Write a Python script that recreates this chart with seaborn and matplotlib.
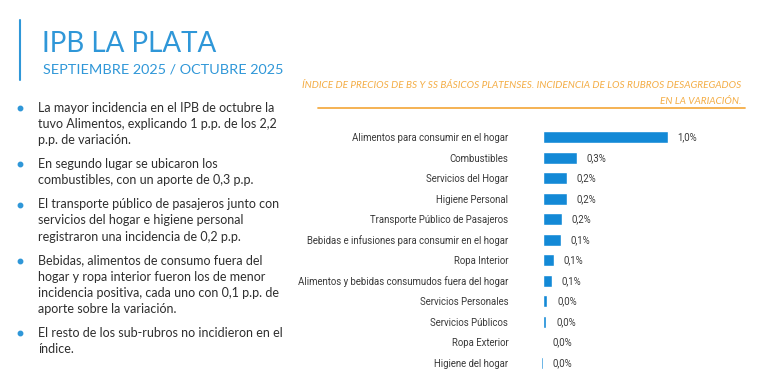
import matplotlib
matplotlib.use("Agg")
import matplotlib.pyplot as plt
import seaborn as sns
import pandas as pd

# datos
rubros = ["Alimentos para consumir en el hogar", "Combustibles", "Servicios del Hogar",
          "Higiene Personal", "Transporte Público de Pasajeros",
          "Bebidas e infusiones para consumir en el hogar", "Ropa Interior",
          "Alimentos y bebidas consumudos fuera del hogar", "Servicios Personales",
          "Servicios Públicos", "Ropa Exterior", "Higiene del hogar"]
incidencia = [1.0, 0.27, 0.19, 0.19, 0.15, 0.14, 0.09, 0.07, 0.035, 0.027, 0.0, -0.016]
etiquetas = ["1,0%", "0,3%", "0,2%", "0,2%", "0,2%", "0,1%", "0,1%", "0,1%",
             "0,0%", "0,0%", "0,0%", "0,0%"]

titulo = "IPB LA PLATA"
subtitulo = "SEPTIEMBRE 2025 / OCTUBRE 2025"
encabezado = ["ÍNDICE DE PRECIOS DE BS Y SS BÁSICOS PLATENSES. INCIDENCIA DE LOS RUBROS DESAGREGADOS",
              "EN LA VARIACIÓN."]
bullets = [
    "La mayor incidencia en el IPB de octubre la\ntuvo Alimentos, explicando 1 p.p. de los 2,2\np.p. de variación.",
    "En segundo lugar se ubicaron los\ncombustibles, con un aporte de 0,3 p.p.",
    "El transporte público de pasajeros junto con\nservicios del hogar e higiene personal\nregistraron una incidencia de 0,2 p.p.",
    "Bebidas, alimentos de consumo fuera del\nhogar y ropa interior fueron los de menor\nincidencia positiva, cada uno con 0,1 p.p. de\naporte sobre la variación.",
    "El resto de los sub-rubros no incidieron en el\níndice.",
]

df = pd.DataFrame({"rubro": rubros, "incidencia": incidencia})

sns.set_style("white")
plt.rcParams["font.family"] = ["Roboto", "DejaVu Sans"]

W, H = 768, 388
fig = plt.figure(figsize=(W / 100, H / 100), dpi=100)
fig.patch.set_facecolor("white")

azul = "#2f97d8"
naranja = "#f4ad45"
gris = "#2e2e2e"

# cabecera izquierda
fig.add_artist(plt.Line2D([20 / W, 20 / W], [1 - 20 / H, 1 - 80 / H], color=azul, lw=1.5))
fig.text(42 / W, 1 - 44 / H, titulo, color=azul, fontsize=20, family="Lato", va="center")
fig.text(43 / W, 1 - 69 / H, subtitulo, color=azul, fontsize=10.4, family="Lato", va="center")

# bullets
y = 108
for b in bullets:
    fig.add_artist(plt.Line2D([20 / W], [1 - y / H], marker="o", ms=3.2, color=azul, lw=0))
    n = b.count("\n") + 1
    fig.text(38 / W, 1 - (y - 6.5) / H, b, color=gris, fontsize=9, family="Lato",
             va="top", linespacing=1.42)
    y += (n - 1) * 15.9 + 24.5

# encabezado naranja
fig.text(741 / W, 1 - 85.5 / H, encabezado[0], color=naranja, fontsize=7.2,
         style="italic", family="Lato", ha="right", va="center")
fig.text(741 / W, 1 - 101.5 / H, encabezado[1], color=naranja, fontsize=7.2,
         style="italic", family="Lato", ha="right", va="center")
fig.add_artist(plt.Line2D([318 / W, 745 / W], [1 - 108 / H, 1 - 108 / H], color=naranja, lw=1.3))

# barras
ax = fig.add_axes([543 / W, 1 - 373 / H, 200 / W, 246 / H])
sns.barplot(data=df, x="incidencia", y="rubro", orient="h", color="#1389d6",
            saturation=1, width=0.6, ax=ax)
ax.set_xlim(0, 1.6)
ax.set_xlabel("")
ax.set_ylabel("")
ax.set_xticks([])
ax.tick_params(axis="y", length=0, pad=25, labelsize=6.9, labelcolor="#3a3a3a")
for s in ax.spines.values():
    s.set_visible(False)
ax.patch.set_alpha(0)
for p in ax.patches:
    p.set_clip_on(False)

for i, (v, t) in enumerate(zip(incidencia, etiquetas)):
    ax.annotate(t, (max(v, 0), i), xytext=(7, 0), textcoords="offset points",
                va="center", ha="left", fontsize=6.9, color="#3a3a3a")

fig.savefig("out.png", dpi=100)
